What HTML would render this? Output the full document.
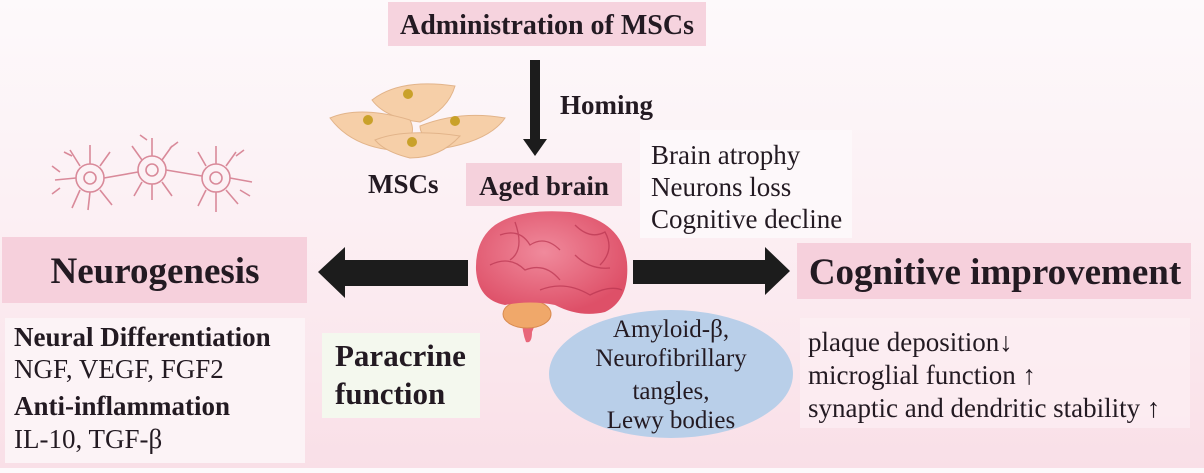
<!DOCTYPE html>
<html><head><meta charset="utf-8"><style>
html,body{margin:0;padding:0}
body{width:1204px;height:468px;overflow:hidden;background:linear-gradient(180deg,#fdf9fb 0%,#fcf0f4 45%,#f9dfe7 100%);}
svg text{font-family:"Liberation Serif",serif;fill:#231a22}
</style></head><body>
<svg width="1204" height="468" viewBox="0 0 1204 468" xmlns="http://www.w3.org/2000/svg">
<defs>
<radialGradient id="br" cx="45%" cy="40%" r="60%"><stop offset="0" stop-color="#f08a9c"/><stop offset="1" stop-color="#de5068"/></radialGradient>
</defs>
<rect x="388" y="2" width="318" height="44" fill="#f6d3de"/>
<text x="547" y="34" font-size="28" font-weight="bold" text-anchor="middle">Administration of MSCs</text>
<rect x="640" y="130" width="212" height="108" fill="#fdf8fa"/>
<rect x="466" y="163" width="156" height="43" fill="#f5d1dc"/>
<text x="544" y="195" font-size="27" font-weight="bold" text-anchor="middle">Aged brain</text>
<rect x="2" y="237" width="305" height="66" fill="#f6d0dc"/>
<text x="155" y="283" font-size="37" font-weight="bold" text-anchor="middle">Neurogenesis</text>
<rect x="797" y="243" width="394" height="56" fill="#f6d0dc"/>
<text x="995" y="284" font-size="37" font-weight="bold" text-anchor="middle">Cognitive improvement</text>
<rect x="5" y="318" width="300" height="145" fill="#fcf3f6"/>
<rect x="322" y="333" width="158" height="85" fill="#f4f8ee"/>
<rect x="800" y="318" width="390" height="110" fill="#fcf0f4" opacity="0.7"/>
<rect x="530" y="60" width="10" height="82" fill="#1c1c1c"/>
<polygon points="523,139 547,139 535,156" fill="#1c1c1c"/>
<text x="560" y="114" font-size="27" font-weight="bold">Homing</text>
<polygon points="468,260 345,260 345,247 318,272 345,298 345,286 468,286" fill="#1c1c1c"/>
<polygon points="633,260 765,260 765,247 790,271 765,295 765,284 633,284" fill="#1c1c1c"/>
<g fill="#f6cfa8" stroke="#e2b48a" stroke-width="1">
<path d="M372,100 Q400,78 455,86 Q448,110 420,122 Q385,118 372,100Z"/>
<path d="M330,118 Q360,105 410,120 Q420,140 390,150 Q350,145 330,118Z"/>
<path d="M420,126 Q460,110 505,118 Q490,140 445,148 Q420,140 420,126Z"/>
<path d="M375,140 Q405,128 460,136 Q440,158 410,158 Q385,152 375,140Z"/>
</g>
<g fill="#c9a12a"><circle cx="408" cy="94" r="5"/><circle cx="368" cy="120" r="5"/><circle cx="455" cy="121" r="5"/><circle cx="412" cy="142" r="5"/></g>
<text x="368" y="193" font-size="27" font-weight="bold">MSCs</text>
<g fill="none" stroke="#d98a9a" stroke-width="1.6">
<circle cx="90" cy="178" r="14"/><circle cx="90" cy="178" r="6"/>
<circle cx="152" cy="170" r="14"/><circle cx="152" cy="170" r="6"/>
<circle cx="216" cy="178" r="14"/><circle cx="216" cy="178" r="6"/>
<path d="M76,178 L55,180 M60,172 L52,166 M80,166 L70,150 M72,156 L64,152 M90,164 L90,145 M100,166 L110,152 M104,178 L138,172 M80,190 L72,208 M90,192 L88,210 M100,190 L112,205 M60,188 L52,194"/>
<path d="M152,156 L152,138 M142,160 L132,146 M162,160 L172,146 M166,170 L202,176 M142,182 L134,196 M152,184 L152,200 M162,182 L172,196 M147,140 L140,135 M170,148 L178,142"/>
<path d="M216,164 L216,146 M206,166 L198,152 M226,166 L236,152 M230,178 L252,182 M206,190 L198,206 M216,192 L216,212 M226,190 L238,204 M240,190 L250,196 M236,156 L244,150"/>
</g>
<text x="651" y="164" font-size="27">Brain atrophy</text>
<text x="651" y="196" font-size="27">Neurons loss</text>
<text x="651" y="228" font-size="27">Cognitive decline</text>
<path d="M522,318 Q522,332 526,342 Q532,344 532,332 Q536,322 540,316Z" fill="#e8667a"/>
<ellipse cx="527" cy="314" rx="24" ry="14" fill="#f0a86a" stroke="#d88a50"/>
<path d="M495,225 Q520,208 570,212 Q622,220 627,262 Q630,300 605,312 Q580,318 555,305 Q530,300 505,305 Q478,300 476,270 Q475,240 495,225Z" fill="url(#br)"/>
<g fill="none" stroke="#b83550" stroke-width="1.3" opacity="0.7">
<path d="M500,235 Q520,228 530,245 Q545,235 560,250 M490,265 Q510,255 525,270 Q545,262 560,280 M575,225 Q590,240 605,232 Q615,250 600,265 M540,290 Q565,280 590,295 Q610,285 622,290 M515,222 Q525,250 510,260 M575,255 Q590,270 610,268"/>
</g>
<ellipse cx="671" cy="374" rx="122" ry="64" fill="#b9cfe9"/>
<text font-size="25" text-anchor="middle"><tspan x="671" y="337">Amyloid-β,</tspan><tspan x="671" y="366">Neurofibrillary</tspan><tspan x="671" y="399">tangles,</tspan><tspan x="671" y="428">Lewy bodies</tspan></text>
<text x="14" y="346" font-size="27" font-weight="bold">Neural Differentiation</text>
<text x="14" y="378" font-size="27">NGF, VEGF, FGF2</text>
<text x="14" y="415" font-size="27" font-weight="bold">Anti-inflammation</text>
<text x="14" y="448" font-size="27">IL-10, TGF-β</text>
<text x="335" y="366" font-size="31" font-weight="bold">Paracrine</text>
<text x="335" y="404" font-size="31" font-weight="bold">function</text>
<text x="808" y="351" font-size="27">plaque deposition↓</text>
<text x="808" y="384" font-size="27">microglial function ↑</text>
<text x="808" y="417" font-size="27">synaptic and dendritic stability ↑</text>
</svg>
</body></html>
